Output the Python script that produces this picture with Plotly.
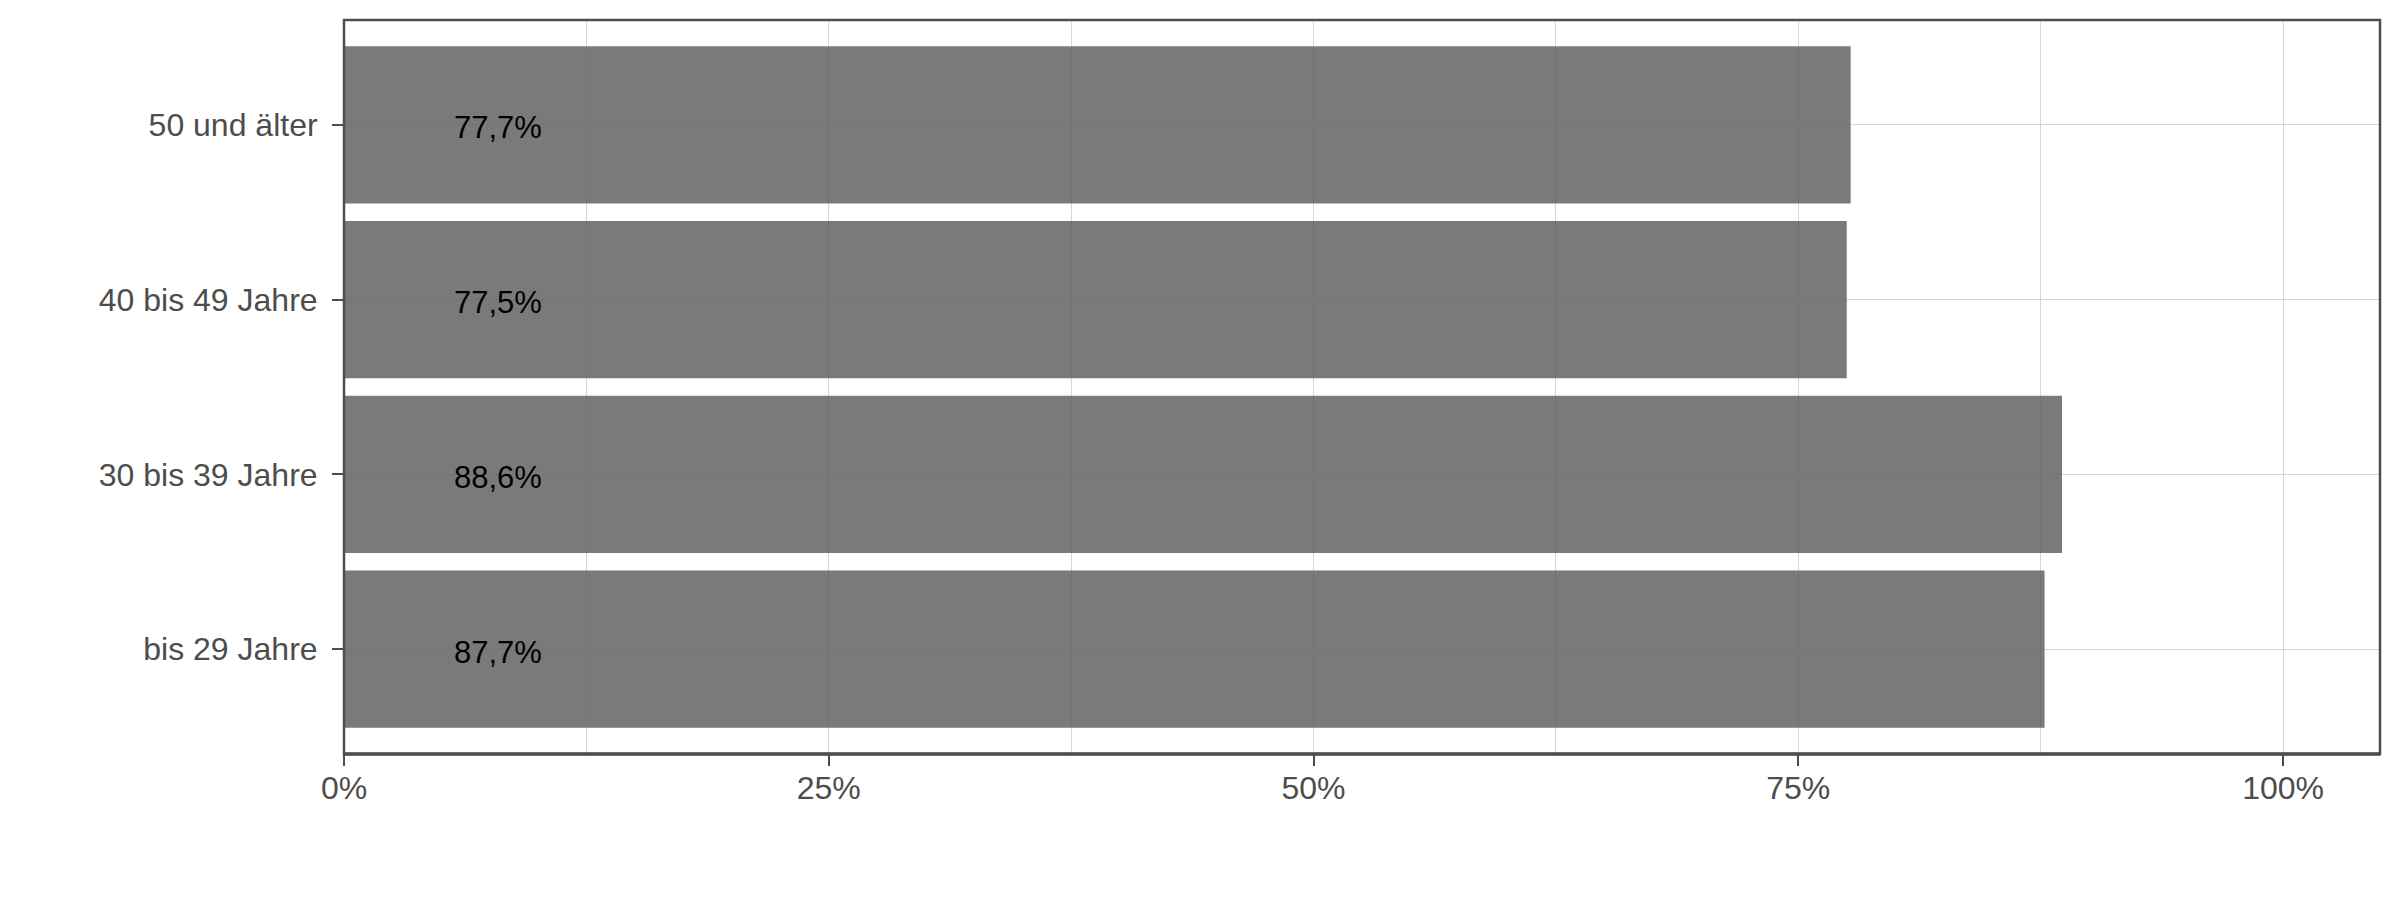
import plotly.graph_objects as go

categories = ["bis 29 Jahre", "30 bis 39 Jahre", "40 bis 49 Jahre", "50 und älter"]
values = [87.7, 88.6, 77.5, 77.7]
x_tickvals = [0, 25, 50, 75, 100]
x_ticktext = ["0%", "25%", "50%", "75%", "100%"]

LABEL_X = 7.95
labels = [f"{v:.1f}%".replace(".", ",") for v in values]

FONT = "Liberation Sans, Arial, sans-serif"
AXIS_COL = "#4d4d4d"
GRID_COL = "#d6d6d6"

fig = go.Figure()
fig.add_trace(go.Bar(
    y=categories, x=values, orientation="h", width=0.9,
    marker=dict(color="rgba(100,100,100,0.86)", line=dict(width=0)),
    hoverinfo="skip", showlegend=False,
))

annotations = [
    dict(x=LABEL_X, y=cat, xref="x", yref="y", text=lab, showarrow=False,
         xanchor="center", yanchor="middle", yshift=-3,
         font=dict(family=FONT, size=31, color="black"))
    for cat, lab in zip(categories, labels)
]

fig.update_layout(
    width=2400, height=900,
    margin=dict(l=344, r=20, t=20, b=146, autoexpand=False),
    plot_bgcolor="white", paper_bgcolor="white",
    font=dict(family=FONT, size=32, color=AXIS_COL),
    annotations=annotations,
    xaxis=dict(
        range=[0, 105], tickvals=x_tickvals, ticktext=x_ticktext,
        showgrid=True, gridcolor=GRID_COL, gridwidth=1.2,
        minor=dict(dtick=12.5, tick0=0, showgrid=True, gridcolor=GRID_COL, gridwidth=1.2, ticks=""),
        zeroline=False, showline=False, automargin=False,
        ticks="outside", ticklen=11, tickwidth=1.5, tickcolor=AXIS_COL,
        ticklabelstandoff=-5,
        tickfont=dict(family=FONT, size=32, color=AXIS_COL),
    ),
    yaxis=dict(
        categoryorder="array", categoryarray=categories,
        range=[-0.6, 3.6],
        showgrid=True, gridcolor=GRID_COL, gridwidth=1.2,
        zeroline=False, showline=False, automargin=False,
        ticks="outside", ticklen=11, tickwidth=1.5, tickcolor=AXIS_COL,
        ticklabelstandoff=8,
        tickfont=dict(family=FONT, size=32, color=AXIS_COL),
    ),
    shapes=[
        dict(type="rect", xref="paper", yref="paper", x0=0, x1=1, y0=0, y1=1,
             line=dict(color=AXIS_COL, width=2.5), fillcolor="rgba(0,0,0,0)", layer="above"),
        dict(type="line", xref="paper", yref="paper", x0=0, x1=1, y0=0, y1=0,
             line=dict(color=AXIS_COL, width=3.5), layer="above"),
    ],
)

fig.write_html("out.html", config={"displayModeBar": False},
               post_script="document.body.style.margin='0';document.body.style.overflow='hidden';")
